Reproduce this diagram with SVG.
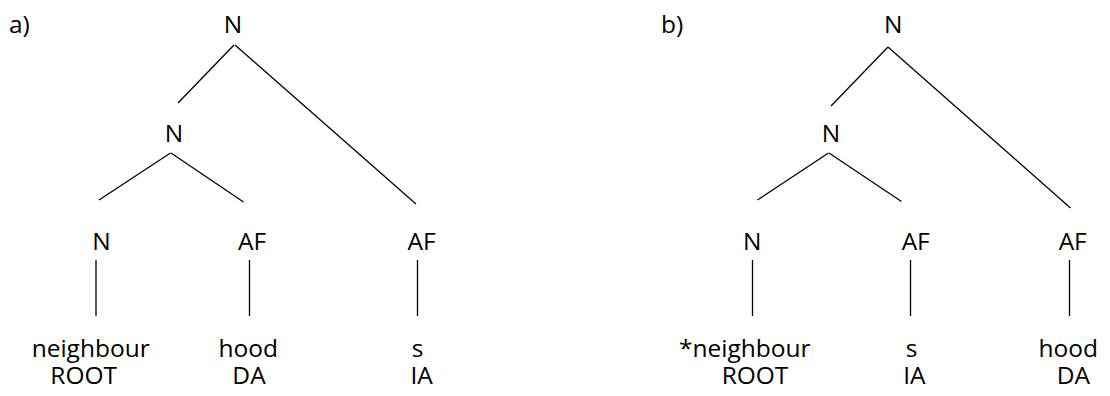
<svg xmlns="http://www.w3.org/2000/svg" width="1110" height="396" viewBox="0 0 1110 396">
<style>
text{font-family:"Open Sans","Noto Sans",sans-serif;font-size:24.5px;fill:#000;text-anchor:middle}
.l{text-anchor:start}
line{stroke:#000;stroke-width:1.3}
</style>
<rect width="1110" height="396" fill="#fff"/>
<g id="connectors">
<line x1="234" y1="45" x2="178" y2="103"/>
<line x1="235" y1="45" x2="416" y2="204"/>
<line x1="170.5" y1="153" x2="99" y2="200"/>
<line x1="171" y1="153" x2="243.5" y2="202"/>
<line x1="96" y1="260" x2="96" y2="316"/>
<line x1="249.5" y1="260" x2="249.5" y2="316"/>
<line x1="417.5" y1="260" x2="417.5" y2="316"/>
<line x1="888" y1="47" x2="831" y2="106"/>
<line x1="888" y1="47" x2="1070.5" y2="208"/>
<line x1="828.5" y1="153" x2="757.5" y2="200"/>
<line x1="829" y1="153" x2="901.5" y2="201.5"/>
<line x1="752.5" y1="260" x2="752.5" y2="316"/>
<line x1="910.5" y1="260" x2="910.5" y2="316"/>
<line x1="1069.5" y1="260" x2="1069.5" y2="316"/>
</g>
<g id="label-a"><text class="l" x="9" y="33">a)</text></g>
<g id="a-root"><text x="233" y="33">N</text></g>
<g id="a-n2"><text x="174" y="142">N</text></g>
<g id="a-n3"><text x="101.5" y="250">N</text></g>
<g id="a-af1"><text x="252" y="250">AF</text></g>
<g id="a-af2"><text x="421.5" y="250">AF</text></g>
<g id="a-leaf1"><text x="90.7" y="357">neighbour</text><text x="83.7" y="384">ROOT</text></g>
<g id="a-leaf2"><text x="248.3" y="357">hood</text><text x="249" y="384">DA</text></g>
<g id="a-leaf3"><text x="417.7" y="357">s</text><text x="421.7" y="384">IA</text></g>
<g id="label-b"><text class="l" x="661" y="33">b)</text></g>
<g id="b-root"><text x="893.3" y="33">N</text></g>
<g id="b-n2"><text x="831" y="142">N</text></g>
<g id="b-n3"><text x="752.3" y="250">N</text></g>
<g id="b-af1"><text x="915.7" y="250">AF</text></g>
<g id="b-af2"><text x="1072.7" y="250">AF</text></g>
<g id="b-leaf1"><text x="744.8" y="357">*neighbour</text><text x="755" y="384">ROOT</text></g>
<g id="b-leaf2"><text x="911.7" y="357">s</text><text x="914.3" y="384">IA</text></g>
<g id="b-leaf3"><text x="1068.3" y="357">hood</text><text x="1073.3" y="384">DA</text></g>
</svg>
